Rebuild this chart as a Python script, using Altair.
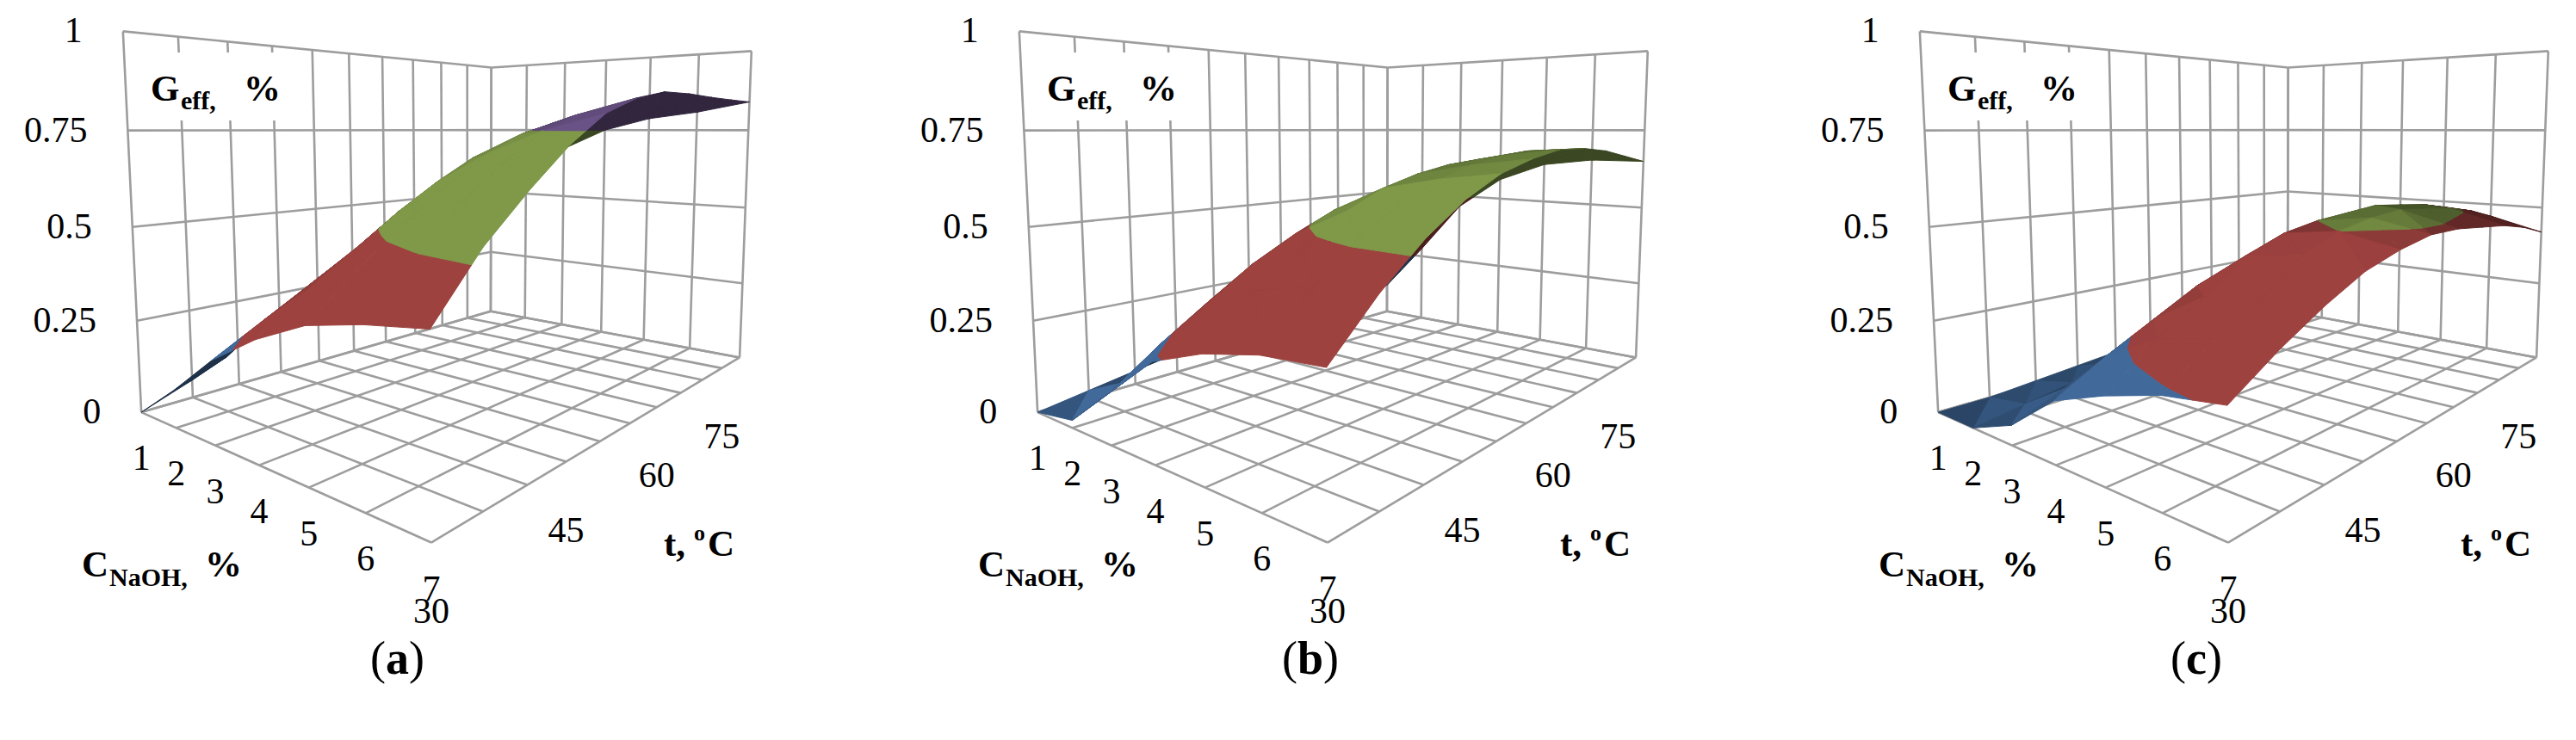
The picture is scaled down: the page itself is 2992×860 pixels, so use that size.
import numpy as np
import pandas as pd
import altair as alt

# ---------------- values ----------------
C_VALUES = [1, 2, 3, 4, 5, 6, 7]                       # C_NaOH, %
T_VALUES = [30, 35, 40, 45, 50, 55, 60, 65, 70, 75, 80]  # t, oC
G_LEVELS = [0, 0.25, 0.5, 0.75, 1]
G_LABELS = ["0", "0.25", "0.5", "0.75", "1"]
C_LABELS = ["1", "2", "3", "4", "5", "6", "7"]
T_LABEL_VALUES = [30, 45, 60, 75]
T_LABELS = ["30", "45", "60", "75"]
PANEL_LETTERS = ["a", "b", "c"]

# G_eff, rows: t = 30 ... 80, columns: C = 1 ... 7
GEFF_A = [
    [0.00, 0.10, 0.21, 0.29, 0.35, 0.38, 0.40],
    [0.05, 0.15, 0.28, 0.38, 0.45, 0.50, 0.53],
    [0.12, 0.24, 0.35, 0.46, 0.54, 0.60, 0.63],
    [0.17, 0.31, 0.42, 0.54, 0.62, 0.68, 0.72],
    [0.24, 0.37, 0.49, 0.61, 0.69, 0.75, 0.79],
    [0.30, 0.43, 0.56, 0.67, 0.74, 0.79, 0.83],
    [0.35, 0.49, 0.61, 0.71, 0.77, 0.81, 0.85],
    [0.39, 0.53, 0.65, 0.74, 0.79, 0.82, 0.85],
    [0.42, 0.56, 0.67, 0.75, 0.795, 0.82, 0.845],
    [0.44, 0.58, 0.68, 0.75, 0.795, 0.815, 0.842],
    [0.45, 0.59, 0.68, 0.75, 0.79, 0.81, 0.84],
]
GEFF_B = [
    [0.00, 0.02, 0.13, 0.24, 0.29, 0.32, 0.33],
    [0.02, 0.08, 0.22, 0.34, 0.40, 0.43, 0.44],
    [0.04, 0.14, 0.30, 0.42, 0.48, 0.52, 0.53],
    [0.06, 0.19, 0.36, 0.48, 0.55, 0.58, 0.60],
    [0.08, 0.23, 0.41, 0.53, 0.60, 0.63, 0.65],
    [0.10, 0.26, 0.44, 0.56, 0.63, 0.66, 0.68],
    [0.11, 0.28, 0.46, 0.58, 0.65, 0.68, 0.70],
    [0.12, 0.29, 0.47, 0.59, 0.66, 0.69, 0.70],
    [0.12, 0.29, 0.47, 0.59, 0.66, 0.68, 0.69],
    [0.12, 0.29, 0.47, 0.58, 0.65, 0.67, 0.67],
    [0.11, 0.28, 0.46, 0.57, 0.63, 0.65, 0.65],
]
GEFF_C = [
    [0.00, 0.00, 0.05, 0.15, 0.20, 0.24, 0.26],
    [0.00, 0.02, 0.10, 0.22, 0.29, 0.32, 0.33],
    [0.01, 0.04, 0.14, 0.28, 0.36, 0.38, 0.39],
    [0.02, 0.06, 0.18, 0.34, 0.44, 0.46, 0.44],
    [0.03, 0.08, 0.21, 0.38, 0.48, 0.50, 0.47],
    [0.04, 0.09, 0.23, 0.41, 0.50, 0.52, 0.49],
    [0.05, 0.10, 0.24, 0.42, 0.51, 0.53, 0.49],
    [0.05, 0.11, 0.25, 0.43, 0.52, 0.52, 0.48],
    [0.05, 0.11, 0.25, 0.43, 0.51, 0.51, 0.47],
    [0.05, 0.11, 0.24, 0.41, 0.50, 0.49, 0.45],
    [0.05, 0.10, 0.23, 0.40, 0.48, 0.46, 0.42],
]
PANEL_DATA = [GEFF_A, GEFF_B, GEFF_C]

# ---------------- style / layout ----------------
BAND_RGB = [(79, 129, 189), (192, 80, 77), (155, 187, 89), (128, 100, 162)]
LIGHT = np.array([0.2, -0.9, 0.4])
SHADE_LO, SHADE_HI, SHADE_X0, SHADE_X1, UNDERSIDE = 0.40, 0.82, 0.30, 0.60, 0.38
CHART_W, CHART_H, MARGIN = 2976, 844, 8
PANEL_X = [0, 1041, 2087]
GRID_COLOR = "#9d9d9d"
FONT = "Liberation Serif"
# camera: box width, depth, height, azimuth, elevation, distance, centre x, centre y
CAM = [416.21, 601.66, 396.87, 39.38, 6.33, 910.30, 548.85, 251.27]


def project(C, t, G, p=CAM):
    W, D, H, phi, th, dist, cx, cy = p
    C = np.asarray(C, float); t = np.asarray(t, float); G = np.asarray(G, float)
    Xc = (C - 1) / 6 * W - W / 2
    Yc = (t - 30) / 50 * D - D / 2
    Zc = G * H - H / 2
    ph = np.radians(phi); tt = np.radians(th)
    xc = Xc * np.cos(ph) + Yc * np.sin(ph)
    h = -Xc * np.sin(ph) + Yc * np.cos(ph)
    depth = dist + h * np.cos(tt) - Zc * np.sin(tt)
    up = h * np.sin(tt) + Zc * np.cos(tt)
    g = dist / depth
    return cx + xc * g, cy - up * g, depth


def camera_world(p=CAM):
    W, D, H, phi, th, dist = p[:6]
    ph = np.radians(phi); tt = np.radians(th)
    c = dist * np.array([np.sin(ph) * np.cos(tt), -np.cos(ph) * np.cos(tt), np.sin(tt)])
    return c + np.array([W / 2, D / 2, H / 2])


def world(v, p=CAM):
    W, D, H = p[0], p[1], p[2]
    return np.array([(v[0] - 1) / 6 * W, (v[1] - 30) / 50 * D, v[2] * H])


def to_chart(sx, sy, k):
    return float(sx + PANEL_X[k] - MARGIN), float(sy - MARGIN)


def clip(poly, level, keep_above):
    out = []
    n = len(poly)
    for i in range(n):
        a = poly[i]; b = poly[(i + 1) % n]
        ina = a[2] >= level if keep_above else a[2] <= level
        inb = b[2] >= level if keep_above else b[2] <= level
        if ina:
            out.append(a)
        if ina != inb:
            f = (level - a[2]) / (b[2] - a[2])
            out.append(tuple(a[m] + f * (b[m] - a[m]) for m in range(3)))
    return out


# ---------------- build tables ----------------
grid_rows, surf_rows = [], []
lid = 0
pid = 0
Ln = LIGHT / np.linalg.norm(LIGHT)
EYE = camera_world()
for k, table in enumerate(PANEL_DATA):
    segs = []
    for c in C_VALUES:
        segs.append([(c, 30, 0), (c, 80, 0)])
        segs.append([(c, 80, 0), (c, 80, 1)])
    for t in T_VALUES:
        segs.append([(1, t, 0), (7, t, 0)])
        segs.append([(1, t, 0), (1, t, 1)])
    for g in G_LEVELS:
        segs.append([(1, 30, g), (1, 80, g)])
        segs.append([(1, 80, g), (7, 80, g)])
    for seg in segs:
        for j, v in enumerate(seg):
            sx, sy, _ = project(*v)
            x, y = to_chart(sx, sy, k)
            grid_rows.append({"lid": lid, "k": j, "x": x, "y": y})
        lid += 1

    G = np.array(table)
    pieces = []
    for j in range(len(T_VALUES) - 1):
        for i in range(len(C_VALUES) - 1):
            v00 = (C_VALUES[i], T_VALUES[j], G[j, i])
            v10 = (C_VALUES[i + 1], T_VALUES[j], G[j, i + 1])
            v11 = (C_VALUES[i + 1], T_VALUES[j + 1], G[j + 1, i + 1])
            v01 = (C_VALUES[i], T_VALUES[j + 1], G[j + 1, i])
            for tri in ((v00, v10, v01), (v10, v11, v01)):
                P = [world(v) for v in tri]
                n = np.cross(P[1] - P[0], P[2] - P[0])
                if n[2] < 0:
                    n = -n
                n = n / np.linalg.norm(n)
                cen = np.mean(P, axis=0)
                if float(n @ (EYE - cen)) < 0:
                    bright = UNDERSIDE
                else:
                    xl = float(n @ Ln)
                    f = min(1.0, max(0.0, (xl - SHADE_X0) / (SHADE_X1 - SHADE_X0)))
                    bright = SHADE_LO + (SHADE_HI - SHADE_LO) * f
                cc = np.mean(np.array(tri), axis=0)
                _, _, dep = project(cc[0], cc[1], cc[2])
                for b in range(4):
                    poly = clip(list(tri), G_LEVELS[b], True)
                    if len(poly) >= 3:
                        poly = clip(poly, G_LEVELS[b + 1], False)
                    if len(poly) >= 3:
                        pieces.append((float(dep), b, bright, poly))
    pieces.sort(key=lambda q: -q[0])
    for dep, b, bright, poly in pieces:
        rgb = tuple(int(round(min(255, ch * bright))) for ch in BAND_RGB[b])
        col = "#%02x%02x%02x" % rgb
        for m, v in enumerate(poly):
            sx, sy, _ = project(*v)
            x, y = to_chart(sx, sy, k)
            surf_rows.append({"pid": pid, "k": m, "x": x, "y": y, "col": col})
        pid += 1

grid_df = pd.DataFrame(grid_rows)
surf_df = pd.DataFrame(surf_rows)

# text tables (positions are layout offsets in pixels)
G_TICK_DX = -47
C_TICK_DY = 54
T_TICK_DY = 80
tick_g, tick_c, tick_t, big, sub, sup, paren, letter, boxes = [], [], [], [], [], [], [], [], []
LETTER_SHIFT = [0, 18, 4]
LETTER_W = {"a": 27, "b": 30, "c": 24}
for k in range(3):
    for g, lab in zip(G_LEVELS, G_LABELS):
        sx, sy, _ = project(1, 30, g)
        x, y = to_chart(sx + G_TICK_DX, sy, k)
        tick_g.append({"x": x, "y": y, "text": lab})
    for c, lab in zip(C_VALUES, C_LABELS):
        sx, sy, _ = project(c, 30, 0)
        x, y = to_chart(sx, sy + C_TICK_DY, k)
        tick_c.append({"x": x, "y": y, "text": lab})
    for t, lab in zip(T_LABEL_VALUES, T_LABELS):
        sx, sy, _ = project(7, t, 0)
        x, y = to_chart(sx, sy + T_TICK_DY, k)
        tick_t.append({"x": x, "y": y, "text": lab})
    for txt, px, py in [("G", 175, 117), ("%", 283, 117), ("C", 95, 670), ("%", 238, 670),
                        ("t,", 771, 646), ("C", 822, 646)]:
        x, y = to_chart(px, py, k)
        big.append({"x": x, "y": y, "text": txt})
    for txt, px, py in [("eff,", 210, 127), ("NaOH,", 127, 681)]:
        x, y = to_chart(px, py, k)
        sub.append({"x": x, "y": y, "text": txt})
    x, y = to_chart(806, 628, k)
    sup.append({"x": x, "y": y, "text": "o"})
    L = PANEL_LETTERS[k]
    x0 = 430 + LETTER_SHIFT[k]
    x, y = to_chart(x0, 783, k); paren.append({"x": x, "y": y, "text": "("})
    x, y = to_chart(x0 + 18, 783, k); letter.append({"x": x, "y": y, "text": L})
    x, y = to_chart(x0 + 18 + LETTER_W[L], 783, k); paren.append({"x": x, "y": y, "text": ")"})
    x1, y1 = to_chart(155, 61, k); x2, y2 = to_chart(345, 140, k)
    boxes.append({"x": x1, "x2": x2, "y": y1, "y2": y2})

XS = alt.Scale(domain=[0, CHART_W], nice=False, zero=False)
YS = alt.Scale(domain=[0, CHART_H], nice=False, zero=False, reverse=True)


def enc_xy():
    return dict(x=alt.X("x:Q", scale=XS, axis=None), y=alt.Y("y:Q", scale=YS, axis=None))


grid = alt.Chart(grid_df).mark_line(stroke=GRID_COLOR, strokeWidth=2.6).encode(
    detail="lid:N", order="k:Q", **enc_xy())

box = alt.Chart(pd.DataFrame(boxes)).mark_rect(fill="white").encode(
    x=alt.X("x:Q", scale=XS, axis=None), x2="x2:Q",
    y=alt.Y("y:Q", scale=YS, axis=None), y2="y2:Q")

surf = alt.Chart(surf_df).mark_line(interpolate="linear-closed", strokeWidth=1.0,
                                    strokeJoin="round").encode(
    detail="pid:N", order="k:Q",
    fill=alt.Fill("col:N", scale=None), stroke=alt.Stroke("col:N", scale=None),
    **enc_xy())


def text_layer(rows, size, weight, align, baseline):
    return alt.Chart(pd.DataFrame(rows)).mark_text(
        font=FONT, fontSize=size, fontWeight=weight, align=align, baseline=baseline,
        color="black").encode(text="text:N", **enc_xy())


layers = [
    grid, box, surf,
    text_layer(tick_g, 42, "normal", "right", "middle"),
    text_layer(tick_c, 42, "normal", "center", "middle"),
    text_layer(tick_t, 42, "normal", "center", "middle"),
    text_layer(big, 43, "bold", "left", "alphabetic"),
    text_layer(sub, 30, "bold", "left", "alphabetic"),
    text_layer(sup, 26, "bold", "left", "alphabetic"),
    text_layer(paren, 54, "normal", "left", "alphabetic"),
    text_layer(letter, 54, "bold", "left", "alphabetic"),
]

chart = alt.layer(*layers).properties(width=CHART_W, height=CHART_H, padding=0).configure_view(
    stroke=None)
chart.save("out.html", embed_options={"renderer": "svg", "actions": False})
